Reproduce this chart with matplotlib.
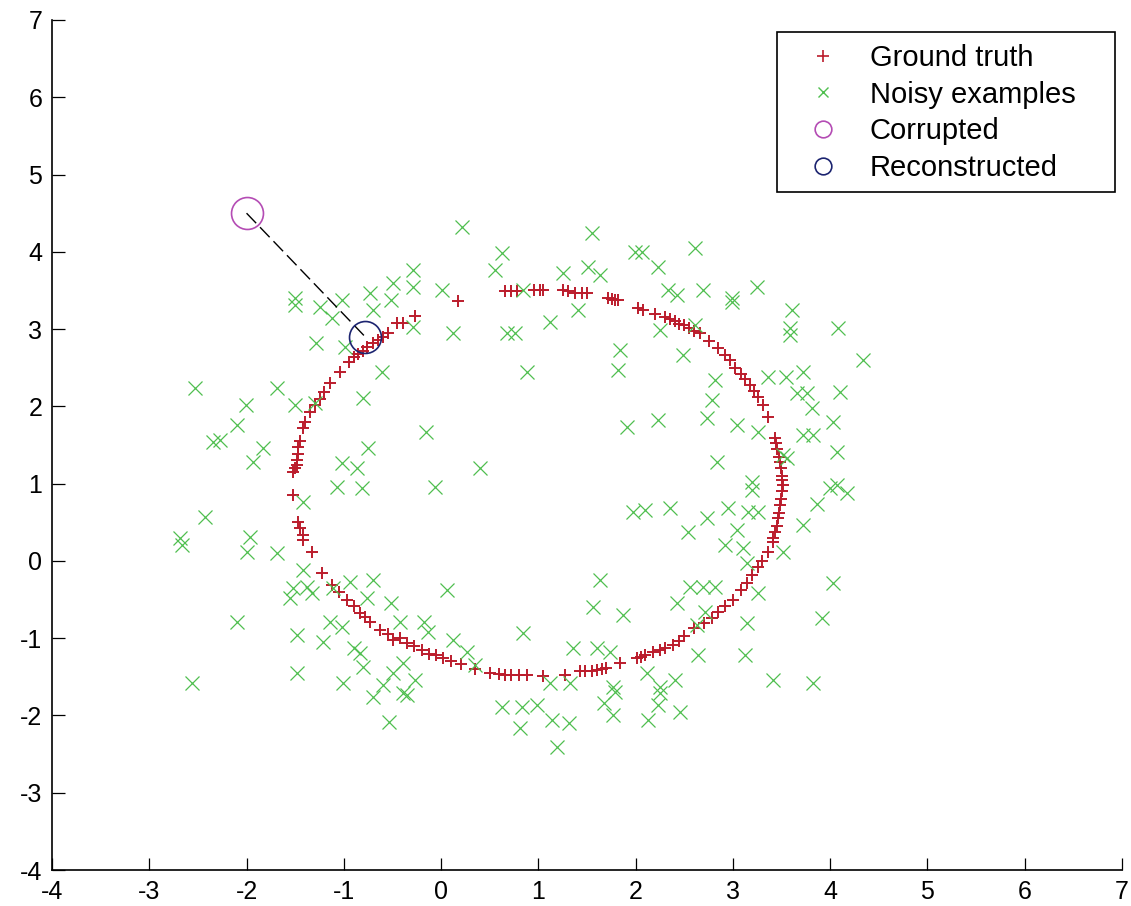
"""
plot.py - ground truth ring, noisy examples and one corrupted/reconstructed pair.
"""
import matplotlib
matplotlib.use("Agg")
import matplotlib.pyplot as plt
from matplotlib.lines import Line2D
from matplotlib.patches import Rectangle

# ground truth points (red +)
truth_pts = [
    (-0.39, 3.08), (-0.27, 3.17), (0.17, 3.36), (0.66, 3.49), (0.72, 3.49), (0.78, 3.49),
    (0.95, 3.50), (1.02, 3.50), (1.05, 3.50), (1.25, 3.50), (1.30, 3.49), (1.38, 3.47),
    (1.45, 3.47), (1.50, 3.47), (1.72, 3.40), (1.76, 3.39), (1.79, 3.38), (1.82, 3.37),
    (2.02, 3.27), (2.08, 3.25), (2.20, 3.20), (2.30, 3.15), (2.35, 3.13), (2.40, 3.10),
    (2.45, 3.07), (2.50, 3.05), (2.55, 3.02), (2.60, 2.98), (2.66, 2.95), (2.75, 2.85),
    (2.85, 2.75), (2.92, 2.66), (2.97, 2.60), (3.02, 2.50), (3.08, 2.42), (3.12, 2.35),
    (3.18, 2.27), (3.22, 2.20), (3.26, 2.12), (3.31, 2.02), (3.36, 1.86), (3.43, 1.59),
    (3.44, 1.52), (3.45, 1.45), (3.47, 1.35), (3.48, 1.28), (3.49, 1.20), (3.50, 1.10),
    (3.50, 1.05), (3.51, 0.98), (3.50, 0.90), (3.49, 0.80), (3.48, 0.72), (3.47, 0.62),
    (3.46, 0.55), (3.45, 0.45), (3.43, 0.37), (3.41, 0.30), (3.41, 0.25), (3.36, 0.12),
    (3.30, 0.00), (3.26, -0.08), (3.20, -0.18), (3.14, -0.28), (3.08, -0.38), (3.00, -0.50),
    (2.92, -0.58), (2.85, -0.66), (2.78, -0.74), (2.70, -0.80), (2.60, -0.87), (2.50, -0.97),
    (2.45, -1.03), (2.38, -1.09), (2.30, -1.13), (2.25, -1.15), (2.18, -1.18), (2.10, -1.22),
    (2.05, -1.24), (2.01, -1.26), (1.84, -1.32), (1.70, -1.39), (1.65, -1.40), (1.60, -1.41),
    (1.55, -1.42), (1.48, -1.43), (1.43, -1.43), (1.27, -1.47), (1.05, -1.49), (0.88, -1.47),
    (0.80, -1.47), (0.72, -1.47), (0.66, -1.47), (0.60, -1.46), (0.50, -1.45), (0.35, -1.40),
    (0.20, -1.34), (0.10, -1.30), (0.02, -1.26), (-0.05, -1.22), (-0.12, -1.20), (-0.20, -1.15),
    (-0.28, -1.10), (-0.35, -1.06), (-0.42, -1.00), (-0.49, -1.02), (-0.55, -0.95), (-0.63, -0.89),
    (-0.73, -0.79), (-0.78, -0.73), (-0.83, -0.67), (-0.90, -0.58), (-0.97, -0.50), (-1.05, -0.40),
    (-1.12, -0.31), (-1.22, -0.16), (-1.33, 0.12), (-1.42, 0.27), (-1.42, 0.34), (-1.45, 0.42),
    (-1.47, 0.50), (-1.52, 0.85), (-1.52, 1.15), (-1.50, 1.20), (-1.48, 1.24), (-1.48, 1.30),
    (-1.47, 1.38), (-1.47, 1.47), (-1.45, 1.55), (-1.42, 1.72), (-1.40, 1.80), (-1.35, 1.93),
    (-1.30, 2.02), (-1.25, 2.10), (-1.20, 2.18), (-1.14, 2.30), (-1.04, 2.45), (-0.95, 2.58),
    (-0.90, 2.64), (-0.85, 2.68), (-0.80, 2.72), (-0.76, 2.77), (-0.70, 2.82), (-0.65, 2.86),
    (-0.60, 2.90), (-0.55, 2.95), (-0.45, 3.08),
]

# noisy examples (green x)
noisy_pts = [
    (-1.50, 3.31), (-1.24, 3.29), (-1.12, 3.14), (-1.02, 3.38), (-0.73, 3.47), (-0.52, 3.38),
    (-0.70, 3.25), (-1.29, 2.82), (-0.99, 2.77), (-0.49, 3.60), (-1.50, 3.40),
    (0.22, 4.32), (0.63, 3.98), (0.55, 3.76), (-0.29, 3.76), (-0.29, 3.54), (0.01, 3.51),
    (0.84, 3.51), (1.25, 3.72), (1.55, 4.24), (1.51, 3.80), (1.63, 3.70), (1.99, 4.00),
    (1.41, 3.25), (1.12, 3.09), (-0.29, 3.03), (0.12, 2.95), (0.68, 2.95), (0.76, 2.95),
    (1.84, 2.73),
    (2.61, 4.05), (2.23, 3.80), (2.07, 4.00), (2.33, 3.51), (2.43, 3.44), (2.69, 3.51),
    (2.99, 3.35), (2.99, 3.40), (3.25, 3.54), (3.61, 3.25), (3.59, 3.01), (3.59, 2.92),
    (4.08, 3.01), (4.34, 2.60), (2.25, 2.99), (2.61, 3.05), (2.49, 2.66),
    (-2.53, 2.24), (-1.69, 2.24), (-2.01, 2.02), (-1.50, 2.02), (-2.10, 1.76), (-2.34, 1.54),
    (-2.27, 1.57), (-1.83, 1.46), (-1.93, 1.28), (-0.80, 2.11), (-0.61, 2.45), (-0.75, 1.46),
    (-1.02, 1.27), (-0.86, 1.20), (-1.07, 0.96), (-0.81, 0.94), (-2.43, 0.57), (-1.42, 0.76),
    (-1.96, 0.31), (-2.68, 0.30), (-1.30, 2.05),
    (0.88, 2.45), (1.82, 2.47), (-0.16, 1.67), (1.91, 1.73), (0.40, 1.20), (-0.06, 0.96),
    (1.97, 0.63),
    (2.82, 2.34), (2.79, 2.08), (2.73, 1.85), (2.23, 1.82), (3.04, 1.76), (3.36, 2.38),
    (3.55, 2.38), (3.72, 2.45), (3.66, 2.17), (3.76, 2.17), (3.81, 1.98), (4.10, 2.19),
    (4.03, 1.80), (3.26, 1.67), (3.72, 1.63), (3.82, 1.63), (4.07, 1.41), (3.56, 1.33),
    (2.84, 1.28), (3.20, 1.02), (3.20, 0.92), (4.00, 0.94), (4.07, 0.98), (4.17, 0.88),
    (3.86, 0.73), (2.10, 0.66), (2.35, 0.69), (2.95, 0.69), (3.16, 0.63), (2.73, 0.56),
    (3.26, 0.63), (2.54, 0.37), (3.04, 0.40), (3.72, 0.47), (3.52, 1.37),
    (-2.66, 0.21), (-2.00, 0.12), (-1.69, 0.10), (-1.42, -0.12), (-1.52, -0.35), (-1.38, -0.34),
    (-1.33, -0.41), (-1.55, -0.48), (-0.94, -0.27), (-0.70, -0.25), (-0.76, -0.48), (-0.52, -0.54),
    (-1.11, -0.35), (-2.10, -0.79), (-1.14, -0.79), (-1.02, -0.85), (-1.48, -0.96), (-1.21, -1.05),
    (-0.90, -1.13), (-0.83, -1.19), (-0.80, -1.37), (-1.48, -1.45), (-2.56, -1.58), (-1.01, -1.58),
    (-0.60, -1.60), (-0.49, -1.45),
    (0.06, -0.38), (-0.42, -0.79), (-0.18, -0.79), (-0.13, -0.92), (0.12, -1.02), (0.27, -1.18),
    (0.35, -1.35), (-0.39, -1.32), (-0.27, -1.54), (-0.39, -1.71), (0.84, -0.93), (1.63, -0.25),
    (1.56, -0.60), (1.87, -0.70), (1.36, -1.13), (1.60, -1.13), (1.74, -1.18), (1.12, -1.58),
    (1.33, -1.58), (1.77, -1.63),
    (2.92, 0.21), (3.10, 0.17), (3.51, 0.12), (3.14, -0.03), (4.03, -0.28), (2.56, -0.34),
    (2.69, -0.34), (2.82, -0.34), (2.43, -0.54), (3.26, -0.41), (2.63, -0.83), (2.71, -0.66),
    (3.14, -0.80), (3.92, -0.74), (2.64, -1.22), (3.12, -1.22), (2.12, -1.45), (2.40, -1.54),
    (2.25, -1.63), (3.41, -1.54), (3.82, -1.58),
    (-0.70, -1.76), (-0.35, -1.73), (-0.54, -2.08), (0.63, -1.89), (0.83, -1.89), (0.99, -1.86),
    (0.81, -2.16), (1.14, -2.06), (1.31, -2.10), (1.19, -2.41), (1.67, -1.84), (1.77, -1.99),
    (1.79, -1.69), (2.25, -1.71), (2.23, -1.86), (2.13, -2.06), (2.46, -1.95),
]

corrupted = (-2.0, 4.5)
reconstructed = (-0.78, 2.9)

labels = ["Ground truth", "Noisy examples", "Corrupted", "Reconstructed"]
x_ticks = list(range(-4, 8))
y_ticks = list(range(-4, 8))

RED = "#bb1c2c"
GREEN = "#4fbf4f"
MAGENTA = "#b44cb4"
NAVY = "#1c2470"

plt.rcParams["font.family"] = ["Liberation Sans", "DejaVu Sans"]
plt.rcParams["axes.unicode_minus"] = False

fig = plt.figure(figsize=(11.31, 9.06), dpi=100)
ax = fig.add_axes([52 / 1131, 36 / 906, 1070 / 1131, 850 / 906])

tx = [p[0] for p in truth_pts]
ty = [p[1] for p in truth_pts]
nx = [p[0] for p in noisy_pts]
ny = [p[1] for p in noisy_pts]

ax.plot(tx, ty, "+", color=RED, ms=9, mew=1.4, ls="none")
ax.plot(nx, ny, "x", color=GREEN, ms=10.5, mew=0.9, ls="none")
ax.plot([corrupted[0], reconstructed[0]], [corrupted[1], reconstructed[1]],
        color="black", lw=1.0, ls=(0, (10, 4)))
ax.plot(*corrupted, "o", mfc="none", mec=MAGENTA, ms=23, mew=1.2)
ax.plot(*reconstructed, "o", mfc="none", mec=NAVY, ms=23, mew=1.2)

ax.set_xlim(-4, 7)
ax.set_ylim(-4, 7)
ax.set_xticks(x_ticks)
ax.set_yticks(y_ticks)
ax.tick_params(direction="in", length=9, width=0.9, labelsize=18, pad=7,
               top=False, right=False)
for side in ["top", "right"]:
    ax.spines[side].set_visible(False)
for side in ["left", "bottom"]:
    ax.spines[side].set_linewidth(1.2)

# legend entries without matplotlib's frame; the box is drawn separately so it
# keeps the wide right margin of the original
handles = [
    Line2D([], [], marker="+", color=RED, ls="none", ms=8, mew=1.2),
    Line2D([], [], marker="x", color=GREEN, ls="none", ms=7, mew=1.0),
    Line2D([], [], marker="o", mfc="none", mec=MAGENTA, ls="none", ms=12, mew=1.2),
    Line2D([], [], marker="o", mfc="none", mec=NAVY, ls="none", ms=12, mew=1.2),
]
ax.legend(handles, labels, loc="upper left", bbox_to_anchor=(0.688, 0.972),
          borderaxespad=0, borderpad=0, fontsize=21, frameon=False,
          labelspacing=0.3, handlelength=2.4, handletextpad=0.4)
fig.add_artist(Rectangle((777 / 1131, 1 - 192 / 906), 338 / 1131, 160 / 906,
                         transform=fig.transFigure, fill=False,
                         edgecolor="black", lw=1.2))

fig.savefig("out.png", dpi=100)
